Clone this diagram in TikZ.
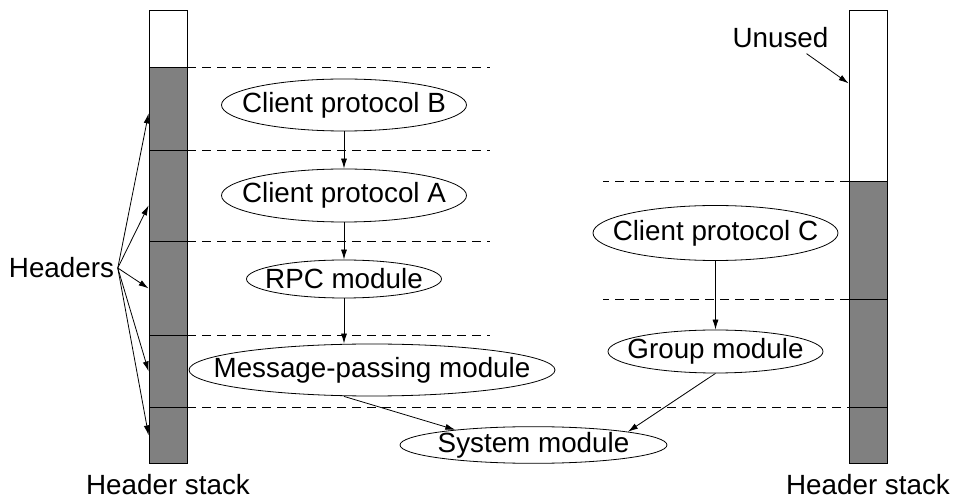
\documentclass[tikz,border=0pt]{standalone}
\usepackage{fontspec}
\setmainfont{Liberation Sans}
\usetikzlibrary{shapes.geometric,arrows.meta,positioning}

\newcommand{\modtext}[1]{\makebox[0pt]{#1}}

\tikzset{
    every node/.style={font=\fontsize{27.8}{33}\selectfont},
    module/.style={ellipse, draw, inner sep=0pt},
    cell/.style={draw, fill=black!50, minimum width=38pt, inner sep=0pt, anchor=north},
    freecell/.style={cell, fill=white},
    layer/.style={dash pattern=on 9pt off 6pt},
    hdr/.style={-{Latex[length=10pt,width=6pt]}},
}

\begin{document}
\begin{tikzpicture}[x=1pt, y=-1pt, line width=0.8pt]
    \useasboundingbox (0,0) rectangle (954,502);

    % left header stack
    \node[freecell, minimum height=57pt] (lfree) at (168,10) {};
    \node[cell, minimum height=83pt] (lc1) at (168,67) {};
    \node[cell, minimum height=91pt] (lc2) at (168,150) {};
    \node[cell, minimum height=94pt] (lc3) at (168,241) {};
    \node[cell, minimum height=72pt] (lc4) at (168,335) {};
    \node[cell, minimum height=56pt] (lc5) at (168,407) {};
    \node[below=7pt of lc5] (lstack) {Header stack};

    % right header stack
    \node[freecell, minimum height=171pt] (rfree) at (868,10) {};
    \node[cell, minimum height=118pt] (rc1) at (868,181) {};
    \node[cell, minimum height=108pt] (rc2) at (868,299) {};
    \node[cell, minimum height=56pt] (rc3) at (868,407) {};
    \node[below=7pt of rc3] (rstack) {Header stack};

    % layer boundaries
    \foreach \c in {lc1,lc2,lc3,lc4}
        \draw[layer] (\c.north east) -- ++(303,0);
    \draw[layer] (lc5.north east) -- (rc3.north west);
    \draw[layer] (rc1.north west) -- ++(-246,0);
    \draw[layer] (rc2.north west) -- ++(-246,0);

    % modules
    \node[module, minimum width=245pt, minimum height=52pt] (cpB) at (344,105) {\modtext{Client protocol B}};
    \node[module, minimum width=245pt, minimum height=53pt] (cpA) at (344,195.5) {\modtext{Client protocol A}};
    \node[module, minimum width=195pt, minimum height=38pt] (rpc) at (344,279) {\modtext{RPC module}};
    \node[module, minimum width=366pt, minimum height=52pt] (mpm) at (372,370) {\modtext{Message-passing module}};
    \node[module, minimum width=267pt, minimum height=36pt] (sys) at (533.5,445) {\modtext{System module}};
    \node[module, minimum width=245pt, minimum height=55pt] (cpC) at (715.5,233) {\modtext{Client protocol C}};
    \node[module, minimum width=215pt, minimum height=43pt] (grp) at (715.5,351.5) {\modtext{Group module}};

    \draw[hdr] (cpB) -- (cpA);
    \draw[hdr] (cpA) -- (rpc);
    \draw[hdr] (rpc) -- (rpc |- mpm.north);
    \draw[hdr] (mpm.south -| rpc) -- (sys.169);
    \draw[hdr] (cpC) -- (grp);
    \draw[hdr] (grp.south) -- (sys.8);

    % labels
    \node (headers) at (61.5,268) {Headers};
    \foreach \c/\s in {lc1/-4.5, lc2/-9.5, lc3/0, lc4/0, lc5/0}
        \draw[hdr] (headers.east) -- ([yshift=\s pt]\c.west);

    \node[inner sep=1pt] (unused) at (780.5,38) {Unused};
    \draw[hdr] ([xshift=26pt,yshift=-4pt]unused.south) -- ([yshift=12.5pt]rfree.west);
\end{tikzpicture}
\end{document}
